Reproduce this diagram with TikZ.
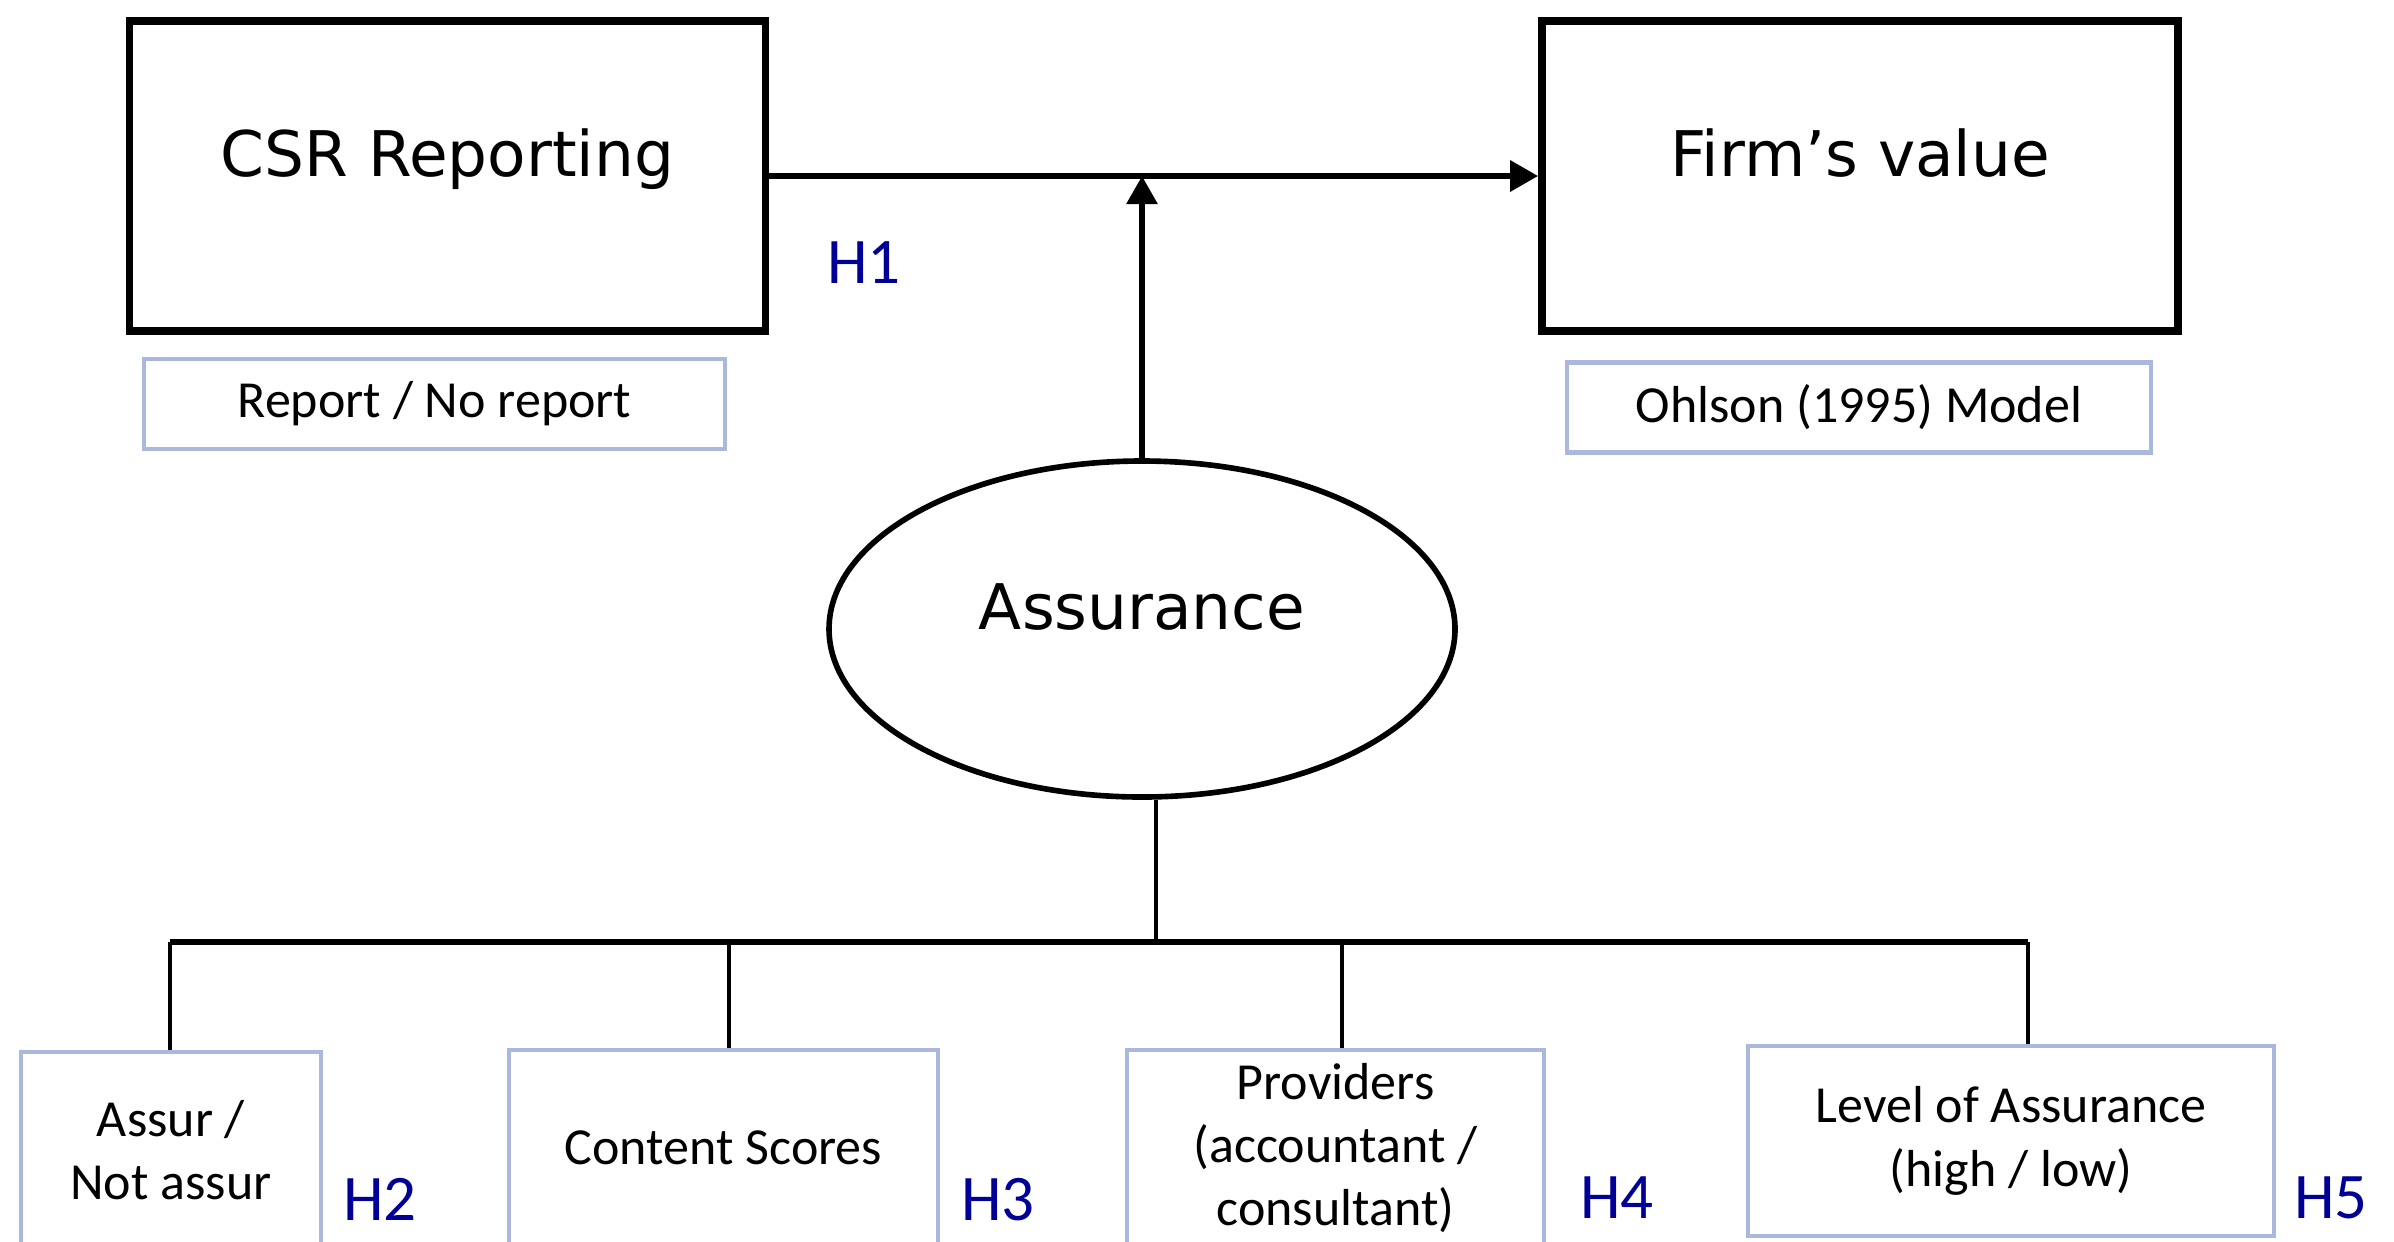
\documentclass[tikz,border=0pt]{standalone}
\usepackage{fontspec}
\setmainfont{Carlito}
\newfontfamily\verd{DejaVu Sans}
\usepackage{tikz}
\usepackage{xcolor}
\usetikzlibrary{shapes.geometric,arrows.meta}
\definecolor{boxblue}{HTML}{A9B8DC}
\definecolor{hblue}{HTML}{000096}

\begin{document}
\begin{tikzpicture}[
    bigbox/.style={draw, line width=2.2pt, minimum width=6.36cm, minimum height=3.1cm, inner sep=0pt,
        text height=0.5cm, text depth=0.5cm, font=\verd\fontsize{17.9}{20}\selectfont},
    notebox/.style={draw=boxblue, line width=1.2pt, minimum height=0.9cm, inner sep=0pt,
        font=\fontsize{14.8}{18}\selectfont},
    subbox/.style={draw=boxblue, line width=1.2pt, inner sep=0pt, align=center,
        font=\fontsize{14.8}{18}\selectfont},
    hyp/.style={anchor=base, text=hblue, font=\fontsize{18.5}{20}\selectfont},
    link/.style={line width=1.8pt},
    drop/.style={line width=1.2pt},
    tip/.style={-{Triangle[length=0.28cm, width=0.3cm]}}]
\clip (0,0) rectangle (23.94,-12.41);
\node[bigbox] (csr) at (4.475,-1.76) {CSR Reporting};
\node[bigbox] (firm) at (18.60,-1.76) {Firm’s value};
\node[notebox, minimum width=5.81cm] (rep) at (4.345,-4.04) {Report / No report};
\node[notebox, minimum width=5.84cm] (ohl) at (18.59,-4.075) {Ohlson (1995) Model};
\node[ellipse, draw, line width=1.6pt, minimum width=6.26cm, minimum height=3.36cm, inner sep=0pt,
    text height=0.5cm, text depth=0.5cm, font=\verd\fontsize{17.9}{20}\selectfont] (assur) at (11.42,-6.29) {Assurance};

\node[subbox, minimum width=3.00cm, minimum height=1.96cm] (bA) at (1.71,-11.50) {Assur /\\Not assur};
\node[subbox, minimum width=4.29cm, minimum height=1.96cm] (bB) at (7.235,-11.48) {Content Scores};
\node[subbox, minimum width=4.17cm, minimum height=1.96cm] (bC) at (13.355,-11.48) {Providers\\(accountant /\\consultant)};
\node[subbox, minimum width=5.26cm, minimum height=1.90cm] (bD) at (20.11,-11.41) {Level of Assurance\\(high / low)};

\node[hyp] (h1) at (8.64,-2.83) {H1};
\node[hyp] (h2) at (3.80,-12.20) {H2};
\node[hyp] (h3) at (9.98,-12.20) {H3};
\node[hyp] (h4) at (16.17,-12.18) {H4};
\node[hyp] (h5) at (23.31,-12.18) {H5};

\draw[link, tip] (csr.east) -- (firm.west);
\draw[line width=1.6pt, tip] (assur.north) -- (assur.north |- csr.east);

\coordinate (hub) at (11.56,-9.42);
\coordinate (busL) at (1.70,-9.42);
\coordinate (busR) at (20.28,-9.42);
\draw[drop] (assur.south -| hub) -- (hub);
\draw[link] (busL) -- (busR);
\foreach \b/\x in {bA/1.70, bB/7.29, bC/13.42, bD/20.28}
    \draw[drop] (\x,-9.42) -- (\b.north -| \x,0);
\end{tikzpicture}
\end{document}
